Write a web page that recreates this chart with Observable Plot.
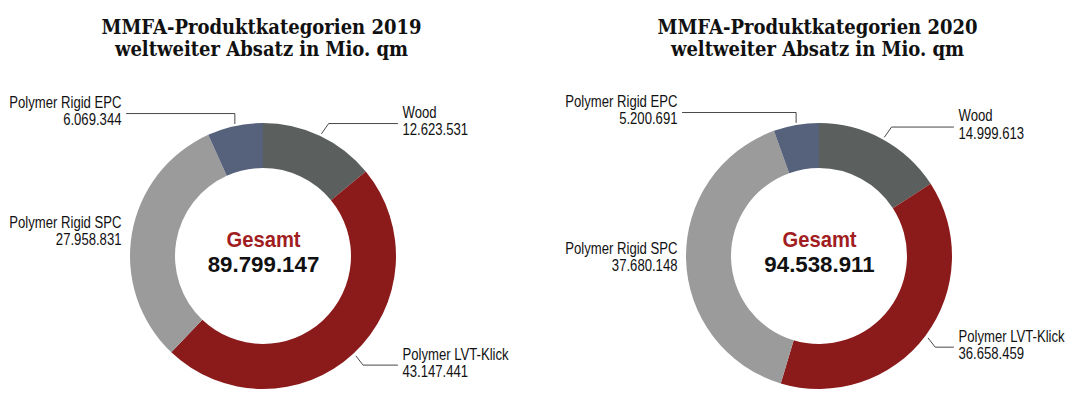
<!DOCTYPE html>
<html>
<head>
<meta charset="utf-8">
<script src="https://cdn.jsdelivr.net/npm/d3@7"></script>
<script src="https://cdn.jsdelivr.net/npm/@observablehq/plot@0.6"></script>
<style>
  html, body { margin: 0; padding: 0; background: #fff; }
  #chart { width: 1080px; height: 419px; }
</style>
</head>
<body>
<div id="chart"></div>
<script>
// ---------- DATA ----------
const years = ["2019", "2020"];
const categories = ["Wood", "Polymer LVT-Klick", "Polymer Rigid SPC", "Polymer Rigid EPC"];
const values2019 = [12623531, 43147441, 27958831, 6069344];
const values2020 = [14999613, 36658459, 37680148, 5200691];
const totals = [89799147, 94538911];
const titleLine1 = "MMFA-Produktkategorien";
const titleLine2 = "weltweiter Absatz in Mio. qm";
const totalLabel = "Gesamt";

// ---------- LAYOUT / STYLE ----------
const colors = ["#5b605f", "#8b1a1b", "#9b9b9b", "#56627b"];
const centers = [[263, 256], [819, 256]];
const r0 = 88, r1 = 133;
const labelStyle = {
  "Wood":              {side: "right", leader: "diag", dy: -10},
  "Polymer LVT-Klick": {side: "right", leader: "diag", dy: 9},
  "Polymer Rigid SPC": {side: "left",  leader: "none", dy: 0},
  "Polymer Rigid EPC": {side: "left",  leader: "vert", dy: -10}
};
const labelDx = {right: 139, left: -142};
const sans = "'Liberation Sans', Arial, Helvetica, sans-serif";
const serif = "'DejaVu Serif Condensed', 'DejaVu Serif', serif";

const fmt = d3.formatLocale({decimal: ",", thousands: ".", grouping: [3], currency: ["", "€"]}).format(",d");
const color = d3.scaleOrdinal(categories, colors);

const series = [values2019, values2020];
const pies = series.map(vals =>
  d3.pie().sort(null).value(d => d.value)(categories.map((c, j) => ({category: c, value: vals[j]})))
);
const arc = d3.arc().innerRadius(r0).outerRadius(r1);

const leaderPts = [];
const labels = [];
pies.forEach((pie, i) => {
  const [cx, cy] = centers[i];
  pie.forEach(s => {
    const c = s.data.category;
    const st = labelStyle[c];
    const mid = (s.startAngle + s.endAngle) / 2;
    const ax = cx + (r1 + 3) * Math.sin(mid);
    const ay = cy - (r1 + 3) * Math.cos(mid);
    const hy = ay + st.dy;
    const lx = cx + labelDx[st.side];
    const key = years[i] + c;
    if (st.leader === "diag") {
      leaderPts.push({key, x: ax, y: ay}, {key, x: ax + 7, y: hy}, {key, x: lx - 5, y: hy});
    } else if (st.leader === "vert") {
      leaderPts.push({key, x: ax, y: ay}, {key, x: ax, y: hy}, {key, x: lx + 5, y: hy});
    }
    const blockY = st.leader === "none" ? ay - 3 : hy - 2.5;
    labels.push({side: st.side, x: lx, y: blockY, text: c + "\n" + fmt(s.data.value)});
  });
});

const chartRows = years.map((y, i) => ({year: y, cx: centers[i][0], cy: centers[i][1], total: totals[i]}));

const donutMark = (index, scales) => {
  const g = d3.create("svg:g");
  pies.forEach((pie, i) => {
    const [cx, cy] = centers[i];
    g.append("g")
      .attr("transform", `translate(${scales.x(cx)},${scales.y(cy)})`)
      .selectAll("path").data(pie).join("path")
      .attr("d", arc)
      .attr("fill", d => color(d.data.category));
  });
  return g.node();
};

const plot = Plot.plot({
  width: 1080,
  height: 419,
  margin: 0,
  x: {type: "identity", axis: null},
  y: {type: "identity", axis: null},
  style: {background: "#fff", fontFamily: sans},
  marks: [
    donutMark,
    Plot.line(leaderPts, {x: "x", y: "y", z: "key", stroke: "#333", strokeWidth: 0.9}),
    Plot.text(labels.filter(d => d.side === "right"), {
      x: "x", y: "y", text: "text", textAnchor: "start", lineAnchor: "middle",
      fontSize: 16, lineHeight: 1.08, fill: "#111", fontFamily: sans
    }),
    Plot.text(labels.filter(d => d.side === "left"), {
      x: "x", y: "y", text: "text", textAnchor: "end", lineAnchor: "middle",
      fontSize: 16, lineHeight: 1.08, fill: "#111", fontFamily: sans
    }),
    Plot.text(chartRows, {
      x: "cx", y: d => d.cy - 17, text: () => totalLabel, fill: "#a11d1f",
      fontSize: 22, fontWeight: "bold", fontFamily: sans
    }),
    Plot.text(chartRows, {
      x: "cx", y: d => d.cy + 8, text: d => fmt(d.total), fill: "#111",
      fontSize: 23, fontWeight: "bold", fontFamily: sans
    }),
    Plot.text(chartRows, {
      x: d => d.cx - 2, y: 37, text: d => titleLine1 + " " + d.year + "\n" + titleLine2,
      lineAnchor: "middle", fontSize: 20, lineHeight: 1.1, fontWeight: "bold",
      fill: "#111", fontFamily: serif
    })
  ]
});

// condense the sans-serif texts horizontally (Helvetica Condensed look)
const textGroups = plot.querySelectorAll('g[aria-label="text"]');
const squeeze = [0.82, 0.82, 0.92, 0.97, 1];
textGroups.forEach((g, k) => {
  const s = squeeze[k] ?? 1;
  if (s === 1) return;
  g.querySelectorAll("text").forEach(t => {
    const tr = t.getAttribute("transform") || "";
    t.setAttribute("transform", tr + ` scale(${s},1)`);
  });
});
document.getElementById("chart").appendChild(plot);
</script>
</body>
</html>
